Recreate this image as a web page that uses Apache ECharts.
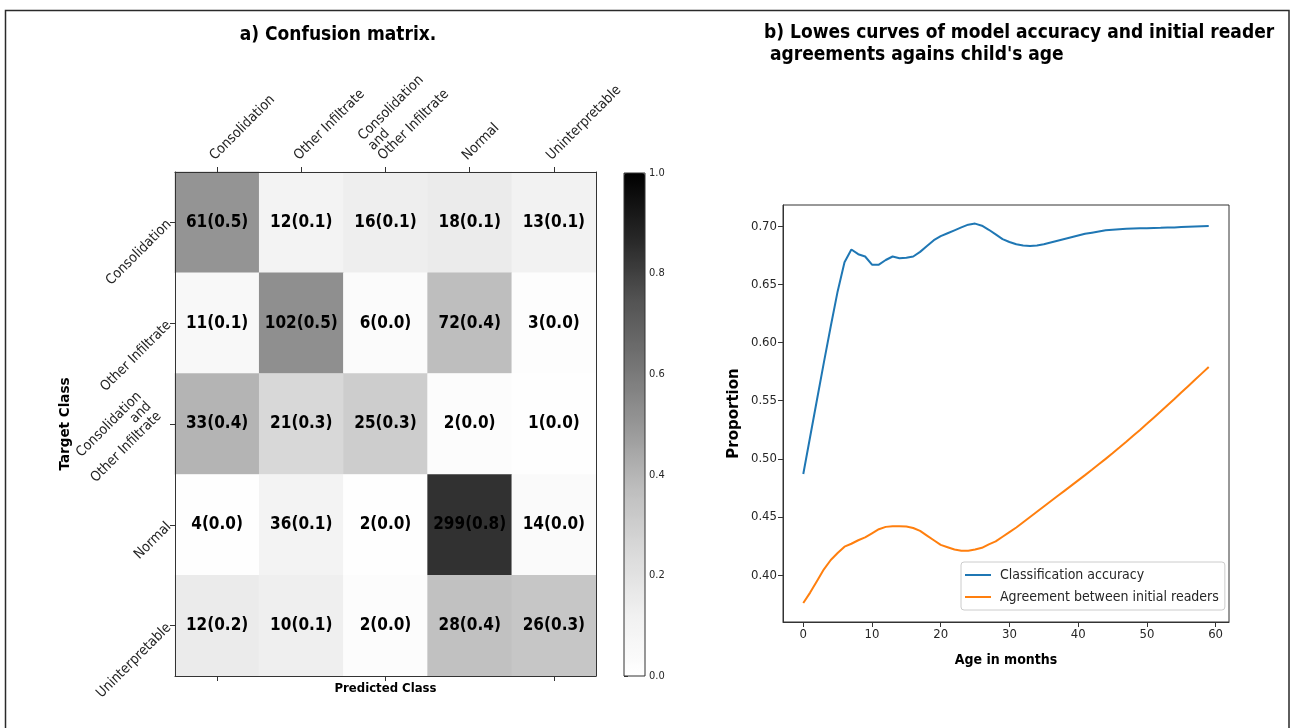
<!DOCTYPE html>
<html>
<head>
<meta charset="utf-8">
<title>Confusion matrix and Lowess curves</title>
<script src="https://cdn.jsdelivr.net/npm/echarts@6/dist/echarts.min.js"></script>
<style>
  html, body { margin: 0; padding: 0; background: #ffffff; }
  #chart { width: 1290px; height: 728px; }
</style>
</head>
<body>
<div id="chart"></div>
<script>
// ---- data -------------------------------------------------------------
const classNames = [
  'Consolidation',
  'Other Infiltrate',
  'Consolidation\nand\nOther Infiltrate',
  'Normal',
  'Uninterpretable'
];
// rows = target class, columns = predicted class
const confusionCounts = [
  [61, 12, 16, 18, 13],
  [11, 102, 6, 72, 3],
  [33, 21, 25, 2, 1],
  [4, 36, 2, 299, 14],
  [12, 10, 2, 28, 26]
];
const colorbarTicks = [0, 0.2, 0.4, 0.6, 0.8, 1.0];

const ageMonths = [
  0, 1, 2, 3, 4, 5, 6, 7, 8, 9, 10, 11, 12, 13, 14, 15, 16, 17, 18, 19,
  20, 21, 22, 23, 24, 25, 26, 27, 28, 29, 30, 31, 32, 33, 34, 35, 36, 37, 38, 39,
  40, 41, 42, 43, 44, 45, 46, 47, 48, 49, 50, 51, 52, 53, 54, 55, 56, 57, 58, 59
];
const classificationAccuracy = [
  0.487, 0.519, 0.551, 0.583, 0.614, 0.644, 0.669, 0.680, 0.676, 0.674,
  0.667, 0.667, 0.671, 0.674, 0.6725, 0.673, 0.674, 0.678, 0.683, 0.688,
  0.6915, 0.694, 0.6965, 0.699, 0.7014, 0.7023, 0.7005, 0.697, 0.693, 0.689,
  0.6865, 0.6845, 0.6835, 0.683, 0.6835, 0.6845, 0.686, 0.6875, 0.689, 0.6905,
  0.692, 0.6935, 0.6945, 0.6955, 0.6965, 0.697, 0.6975, 0.6978, 0.698, 0.6982,
  0.6984, 0.6986, 0.6987, 0.6989, 0.699, 0.6993, 0.6996, 0.6999, 0.7001, 0.7003
];
const readerAgreement = [
  0.376, 0.385, 0.395, 0.405, 0.413, 0.419, 0.4245, 0.427, 0.430, 0.4325,
  0.436, 0.4395, 0.4415, 0.442, 0.442, 0.4418, 0.4405, 0.438, 0.434, 0.430,
  0.426, 0.424, 0.422, 0.421, 0.421, 0.422, 0.4235, 0.4265, 0.429, 0.433,
  0.437, 0.441, 0.4455, 0.450, 0.4545, 0.459, 0.4635, 0.468, 0.4725, 0.477,
  0.4815, 0.486, 0.4906, 0.4953, 0.500, 0.5048, 0.5097, 0.5147, 0.5198, 0.5249,
  0.5301, 0.5354, 0.5407, 0.5461, 0.5515, 0.557, 0.5625, 0.568, 0.5735, 0.579
];
const ageTicks = [0, 10, 20, 30, 40, 50, 60];
const proportionTicks = [0.40, 0.45, 0.50, 0.55, 0.60, 0.65, 0.70];

// matplotlib "Greys" colour ramp
const greys = ['#ffffff', '#f0f0f0', '#d9d9d9', '#bdbdbd', '#969696',
               '#737373', '#525252', '#252525', '#000000'];

// ---- derived tables ---------------------------------------------------
const heatData = [];
confusionCounts.forEach((row, r) => {
  const total = row.reduce((a, b) => a + b, 0);
  row.forEach((count, c) => heatData.push([c, r, count / total, count]));
});

const FONT = "'DejaVu Sans Condensed', 'DejaVu Sans', sans-serif";
const FONT_V = "'DejaVu Sans', sans-serif";
const INK = '#262626';
const SPINE = '#333333';

// rotated multi-line names on the left axis sit above their tick:
// trailing blank lines lift the block away from the anchor
const liftedLines = v => v.indexOf('\n') >= 0 ? v + '\n \n \n \n ' : v;

const classLabel = (rot, extra) => Object.assign({
  rotate: rot,
  interval: 0,
  fontSize: 14,
  fontFamily: FONT,
  color: INK,
  lineHeight: 14
}, extra);

const chart = echarts.init(document.getElementById('chart'), null, { renderer: 'canvas' });

const option = {
  animation: false,
  backgroundColor: '#ffffff',
  textStyle: { fontFamily: FONT, color: INK },
  title: [
    {
      text: 'a) Confusion matrix.',
      left: 338, top: 26, textAlign: 'center', padding: 0,
      textStyle: { fontFamily: FONT, fontSize: 19, fontWeight: 'bold', color: '#000' }
    },
    {
      text: "b) Lowes curves of model accuracy and initial reader\n agreements agains child's age",
      left: 764, top: 22, padding: 0,
      textStyle: { fontFamily: FONT, fontSize: 19, fontWeight: 'bold', color: '#000', lineHeight: 22 }
    }
  ],
  graphic: [
    {
      type: 'rect', silent: true, z: 100,
      shape: { x: 5.5, y: 10.5, width: 1283.5, height: 740 },
      style: { fill: 'none', stroke: '#2a2a2a', lineWidth: 1.5 }
    }
  ],
  grid: [
    { left: 175, top: 172, width: 421, height: 504, containLabel: false },
    { left: 624, top: 173, width: 21, height: 503, show: true, z: 10,
      backgroundColor: 'transparent', borderColor: SPINE, borderWidth: 1 },
    { left: 783, top: 205, width: 446, height: 417, show: true,
      backgroundColor: 'transparent', borderColor: SPINE, borderWidth: 1 }
  ],
  xAxis: [
    {
      type: 'category', gridIndex: 0, position: 'top', data: classNames, z: 5,
      axisLine: { show: true, lineStyle: { color: SPINE, width: 1 } },
      axisTick: { show: true, alignWithLabel: true, length: 5, lineStyle: { color: SPINE } },
      axisLabel: classLabel(-45, { margin: 9, align: 'left', verticalAlign: 'bottom' }),
      splitLine: { show: false }
    },
    {
      type: 'category', gridIndex: 0, position: 'bottom', data: classNames, z: 5,
      name: 'Predicted Class', nameLocation: 'middle', nameGap: 6, nameMoveOverlap: false,
      nameTextStyle: { fontFamily: FONT, fontSize: 13, fontWeight: 'bold', color: '#000' },
      axisLine: { show: true, lineStyle: { color: SPINE, width: 1 } },
      axisTick: { show: true, alignWithLabel: true, length: 5, lineStyle: { color: SPINE } },
      axisLabel: { show: false },
      splitLine: { show: false }
    },
    { type: 'value', gridIndex: 1, min: 0, max: 1, show: false },
    {
      type: 'value', gridIndex: 2, min: -2.95, max: 61.95,
      name: 'Age in months', nameLocation: 'middle', nameGap: 31, nameMoveOverlap: false,
      nameTextStyle: { fontFamily: FONT, fontSize: 14, fontWeight: 'bold', color: '#000' },
      axisLine: { show: true, onZero: false, lineStyle: { color: SPINE } },
      axisTick: { show: true, length: 5, lineStyle: { color: SPINE }, customValues: ageTicks },
      axisLabel: { fontSize: 13, fontFamily: FONT, color: INK, margin: 6, customValues: ageTicks },
      splitLine: { show: false }
    }
  ],
  yAxis: [
    {
      type: 'category', gridIndex: 0, position: 'left', inverse: true, data: classNames, z: 5,
      name: 'Target Class', nameLocation: 'middle', nameGap: 103, nameRotate: 90,
      nameMoveOverlap: false,
      nameTextStyle: { fontFamily: FONT_V, fontSize: 13.5, fontWeight: 'bold', color: '#000' },
      axisLine: { show: true, lineStyle: { color: SPINE, width: 1 } },
      axisTick: { show: true, alignWithLabel: true, length: 5, lineStyle: { color: SPINE } },
      axisLabel: classLabel(45, { margin: 6, align: 'right', formatter: liftedLines }),
      splitLine: { show: false }
    },
    {
      type: 'category', gridIndex: 0, position: 'right', inverse: true, data: classNames, z: 5,
      axisLine: { show: true, lineStyle: { color: SPINE, width: 1 } },
      axisTick: { show: false }, axisLabel: { show: false }, splitLine: { show: false }
    },
    {
      type: 'value', gridIndex: 1, position: 'right', min: 0, max: 1, interval: 0.2,
      axisLine: { show: false },
      axisTick: { show: true, length: 4, lineStyle: { color: SPINE }, customValues: colorbarTicks },
      axisLabel: { fontSize: 11, fontFamily: FONT, color: INK, margin: 4,
                   customValues: colorbarTicks, formatter: v => v.toFixed(1) },
      splitLine: { show: false }
    },
    {
      type: 'value', gridIndex: 2, min: 0.3597, max: 0.7183,
      name: 'Proportion', nameLocation: 'middle', nameGap: 41, nameRotate: 90,
      nameMoveOverlap: false,
      nameTextStyle: { fontFamily: FONT_V, fontSize: 15, fontWeight: 'bold', color: '#000' },
      axisLine: { show: true, onZero: false, lineStyle: { color: SPINE } },
      axisTick: { show: true, length: 5, lineStyle: { color: SPINE }, customValues: proportionTicks },
      axisLabel: { fontSize: 13, fontFamily: FONT, color: INK, margin: 6,
                   customValues: proportionTicks, formatter: v => v.toFixed(2) },
      splitLine: { show: false }
    }
  ],
  visualMap: [
    {
      type: 'continuous', seriesIndex: 0, dimension: 2, min: 0, max: 1,
      calculable: false, hoverLink: false, realtime: false,
      orient: 'vertical', left: 624, top: 173, padding: 0,
      itemWidth: 21, itemHeight: 503, text: null, showLabel: false,
      inRange: { color: greys }
    }
  ],
  legend: {
    orient: 'vertical', left: 961, top: 562,
    data: ['Classification accuracy', 'Agreement between initial readers'],
    icon: 'rect', itemWidth: 26, itemHeight: 2, itemGap: 8,
    padding: [6, 6, 6, 4],
    backgroundColor: '#ffffff', borderColor: '#cccccc', borderWidth: 1, borderRadius: 3,
    textStyle: { fontFamily: FONT, fontSize: 14, color: INK, padding: [0, 0, 0, 4] }
  },
  series: [
    {
      type: 'heatmap', xAxisIndex: 0, yAxisIndex: 0, data: heatData,
      label: {
        show: true, color: '#000', fontFamily: FONT, fontSize: 17, fontWeight: 'bold',
        formatter: p => p.value[3] + '(' + p.value[2].toFixed(1) + ')'
      },
      itemStyle: { borderWidth: 0 },
      emphasis: { disabled: true }
    },
    {
      name: 'Classification accuracy', type: 'line', xAxisIndex: 3, yAxisIndex: 3,
      data: ageMonths.map((m, i) => [m, classificationAccuracy[i]]),
      showSymbol: false, symbol: 'none', color: '#1f77b4',
      lineStyle: { width: 2, color: '#1f77b4' }
    },
    {
      name: 'Agreement between initial readers', type: 'line', xAxisIndex: 3, yAxisIndex: 3,
      data: ageMonths.map((m, i) => [m, readerAgreement[i]]),
      showSymbol: false, symbol: 'none', color: '#ff7f0e',
      lineStyle: { width: 2, color: '#ff7f0e' }
    }
  ]
};

chart.setOption(option);
</script>
</body>
</html>
